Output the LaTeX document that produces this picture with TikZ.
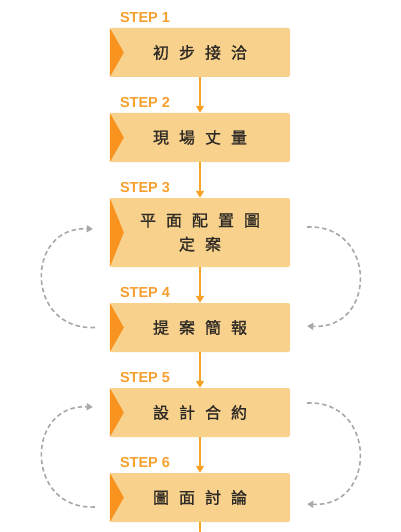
\documentclass[tikz,border=0pt]{standalone}
\usepackage{fontspec}
\setmainfont{Liberation Sans}
\newfontfamily\cjk[FakeBold=1.2]{Noto Sans CJK TC}
\usetikzlibrary{calc,arrows.meta}
\definecolor{boxfill}{HTML}{F8D18C}
\definecolor{tri}{HTML}{F7931E}
\definecolor{arr}{HTML}{F5A226}
\definecolor{steptxt}{HTML}{F6A030}
\definecolor{dash}{HTML}{A8A8A8}
\definecolor{txt}{HTML}{2E2A25}
\newcommand{\gp}{\hspace{10pt}}
\tikzset{
  stepbox/.style={draw=none, fill=boxfill, rounded corners=2pt, minimum width=180pt, minimum height=49pt, inner sep=0pt, font=\cjk\fontsize{16}{24}\selectfont, text=txt, align=center},
  steplabel/.style={anchor=west, inner sep=0pt, font=\bfseries\fontsize{14.5}{16}\selectfont, text=steptxt},
  flow/.style={draw=arr, line width=2pt, -{Triangle[width=8pt,length=7pt]}},
  loop/.style={draw=dash, line width=1.6pt, dash pattern=on 4.5pt off 3pt, -{Triangle[width=7pt,length=6pt]}}
}
\begin{document}
\begin{tikzpicture}[x=1pt,y=-1pt]
\useasboundingbox (0,0) rectangle (400,532);
\fill[white] (0,0) rectangle (400,532);
\node[stepbox] (b1) at (200,52.5) {初\gp{}步\gp{}接\gp{}洽};
\node[stepbox] (b2) at (200,137.5) {現\gp{}場\gp{}丈\gp{}量};
\node[stepbox, minimum height=69pt] (b3) at (200,232.5) {平\gp{}面\gp{}配\gp{}置\gp{}圖\\定\gp{}案};
\node[stepbox] (b4) at (200,327.5) {提\gp{}案\gp{}簡\gp{}報};
\node[stepbox] (b5) at (200,412.5) {設\gp{}計\gp{}合\gp{}約};
\node[stepbox] (b6) at (200,497.5) {圖\gp{}面\gp{}討\gp{}論};
\foreach \b in {b1,b2,b3,b4,b5,b6}{
  \fill[tri] (\b.north west) -- ($(\b.west)+(14,0)$) -- (\b.south west) -- cycle;
}
\foreach \b/\t in {b1/1,b2/2,b3/3,b4/4,b5/5,b6/6}{
  \node[steplabel] (s\t) at ($(\b.north west)+(10,-10)$) {STEP \t};
}
\coordinate (end) at (200,532);
\draw[flow] (b1) -- (b2);
\draw[flow] (b2) -- (b3);
\draw[flow] (b3) -- (b4);
\draw[flow] (b4) -- (b5);
\draw[flow] (b5) -- (b6);
\draw[draw=arr, line width=2pt] (b6) -- (end);
% loops 3/4
\coordinate (l34s) at ($(b4.west)+(-15,0)$);
\coordinate (l34e) at ($(b3.west)+(-17,-3.5)$);
\coordinate (r34s) at ($(b3.east)+(17,-5.5)$);
\coordinate (r34e) at ($(b4.east)+(17,-1.5)$);
\draw[loop] (l34s) .. controls +(-70,3) and +(-68,-3) .. (l34e);
\draw[loop] (r34s) .. controls +(70,-3) and +(70,4) .. (r34e);
% loops 5/6
\coordinate (l56s) at ($(b6.west)+(-15,9.5)$);
\coordinate (l56e) at ($(b5.west)+(-17,-5.5)$);
\coordinate (r56s) at ($(b5.east)+(17,-9.5)$);
\coordinate (r56e) at ($(b6.east)+(17,6.5)$);
\draw[loop] (l56s) .. controls +(-70,3) and +(-68,-3) .. (l56e);
\draw[loop] (r56s) .. controls +(70,-3) and +(70,4) .. (r56e);
\end{tikzpicture}
\end{document}
